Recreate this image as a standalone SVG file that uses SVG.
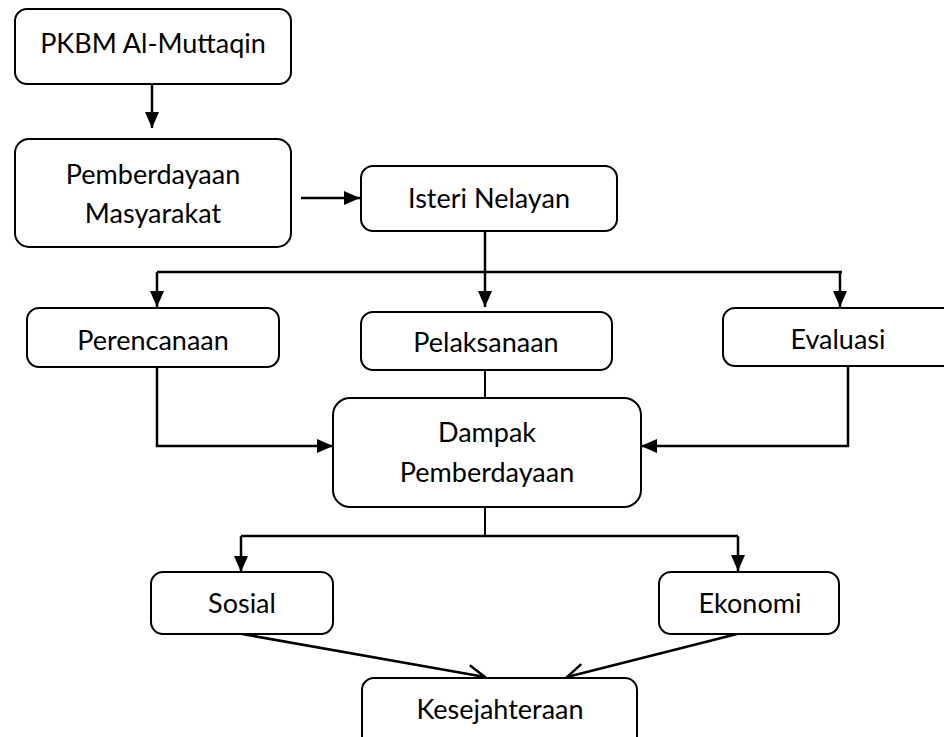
<svg xmlns="http://www.w3.org/2000/svg" width="944" height="737" viewBox="0 0 944 737">
<style>
.box{fill:#fff;stroke:#000;stroke-width:2}
.t{font-family:Lato,"Liberation Sans",sans-serif;font-size:27px;fill:#000;text-anchor:middle}
.c{fill:none;stroke:#000;stroke-width:2.5}
.c2{fill:none;stroke:#000;stroke-width:2}
</style>
<defs>
<marker id="ah" markerUnits="userSpaceOnUse" markerWidth="16" markerHeight="16" refX="16" refY="8" orient="auto">
<path d="M0,1 L16,8 L0,15 z" fill="#000"/>
</marker>
<marker id="oh" markerUnits="userSpaceOnUse" markerWidth="22" markerHeight="22" refX="18" refY="11" orient="auto">
<path d="M1,2 L18,11 L1,20" fill="none" stroke="#000" stroke-width="2.5"/>
</marker>
</defs>
<rect width="944" height="737" fill="#fff"/>
<g id="connectors">
<path class="c" d="M152,84 V128" marker-end="url(#ah)"/>
<path class="c" d="M301,198 H360" marker-end="url(#ah)"/>
<path class="c" d="M485,231 V307" marker-end="url(#ah)"/>
<path class="c" d="M157,272 H842"/>
<path class="c" d="M157,272 V307" marker-end="url(#ah)"/>
<path class="c" d="M840,272 V307" marker-end="url(#ah)"/>
<path class="c2" d="M485,370 V398"/>
<path class="c" d="M157,367 V446 H333" marker-end="url(#ah)"/>
<path class="c" d="M848,366 V446 H641" marker-end="url(#ah)"/>
<path class="c2" d="M485,507 V536"/>
<path class="c" d="M241,536 H738"/>
<path class="c" d="M241,536 V572" marker-end="url(#ah)"/>
<path class="c" d="M738,536 V571" marker-end="url(#ah)"/>
<path class="c" d="M242,634 L485,677" marker-end="url(#oh)"/>
<path class="c" d="M737,634 L567,677" marker-end="url(#oh)"/>
</g>
<g id="pkbm"><rect class="box" x="15" y="9" width="276" height="75" rx="12"/><text class="t" x="153" y="53">PKBM Al-Muttaqin</text></g>
<g id="pemberdayaan-masyarakat"><rect class="box" x="15" y="139" width="276" height="108" rx="14"/><text class="t" x="153" y="184">Pemberdayaan</text><text class="t" x="153" y="223">Masyarakat</text></g>
<g id="isteri-nelayan"><rect class="box" x="361" y="166" width="256" height="65" rx="12"/><text class="t" x="489" y="208">Isteri Nelayan</text></g>
<g id="perencanaan"><rect class="box" x="27" y="308" width="252" height="59" rx="12"/><text class="t" x="153" y="350">Perencanaan</text></g>
<g id="pelaksanaan"><rect class="box" x="361" y="312" width="251" height="58" rx="12"/><text class="t" x="486" y="352">Pelaksanaan</text></g>
<g id="evaluasi"><rect class="box" x="723" y="308" width="240" height="58" rx="12"/><text class="t" x="838" y="349">Evaluasi</text></g>
<g id="dampak"><rect class="box" x="333" y="398" width="308" height="109" rx="17"/><text class="t" x="487" y="442">Dampak</text><text class="t" x="487" y="482">Pemberdayaan</text></g>
<g id="sosial"><rect class="box" x="151" y="572" width="182" height="62" rx="12"/><text class="t" x="242" y="613">Sosial</text></g>
<g id="ekonomi"><rect class="box" x="659" y="572" width="180" height="62" rx="12"/><text class="t" x="750" y="613">Ekonomi</text></g>
<g id="kesejahteraan"><rect class="box" x="362" y="678" width="275" height="80" rx="12"/><text class="t" x="500" y="719">Kesejahteraan</text></g>
</svg>
